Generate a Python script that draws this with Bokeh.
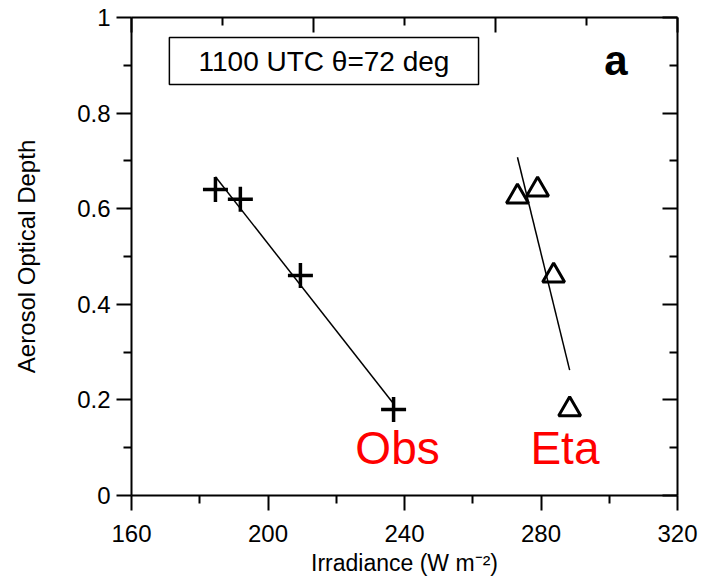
import numpy as np
from bokeh.plotting import figure
from bokeh.models import LinearAxis, Range1d, FixedTicker, Label, BoxAnnotation
from bokeh.embed import file_html
from bokeh.resources import INLINE

# ---- data ----
obs_irr = [184.6, 191.9, 209.5, 236.8]
obs_aod = [0.64, 0.62, 0.46, 0.18]
eta_irr = [273.1, 279.0, 283.7, 288.4]
eta_aod = [0.625, 0.64, 0.46, 0.18]

x_ticks = [160, 200, 240, 280, 320]
x_minor = [180, 220, 260, 300]
y_ticks = [0, 0.2, 0.4, 0.6, 0.8, 1.0]
y_minor = [0.1, 0.3, 0.5, 0.7, 0.9]
y_labels = ["0", "0.2", "0.4", "0.6", "0.8", "1"]
top_ticks = [0, 1, 2, 3]
top_minor = [0.5, 1.5, 2.5]

FONT = "Liberation Sans"

p = figure(width=709, height=582, x_range=Range1d(160, 320), y_range=Range1d(0, 1),
           output_backend="svg", toolbar_location=None,
           min_border_left=131, min_border_right=32, min_border_top=17, min_border_bottom=87)
p.outline_line_color = None
p.grid.visible = False
p.background_fill_color = "white"

def style(ax, inward=False):
    ax.axis_line_width = 2
    ax.major_tick_line_width = 2
    ax.minor_tick_line_width = 2
    if inward:
        ax.major_tick_in, ax.major_tick_out = 15, 0
        ax.minor_tick_in, ax.minor_tick_out = 8, 0
    else:
        ax.major_tick_in, ax.major_tick_out = 0, 15
        ax.minor_tick_in, ax.minor_tick_out = 0, 8
    ax.major_label_text_font = FONT
    ax.major_label_text_font_size = "24px"
    ax.major_label_text_color = "black"
    ax.axis_label_text_font = FONT
    ax.axis_label_text_font_style = "normal"
    ax.axis_label_text_color = "black"

xa = p.xaxis[0]
xa.ticker = FixedTicker(ticks=x_ticks, minor_ticks=x_minor)
style(xa)
xa.major_label_standoff = 14
xa.axis_label = "Irradiance (W m\u207b\u00b2)"
xa.axis_label_text_font_size = "23px"
xa.axis_label_standoff = 5

ya = p.yaxis[0]
ya.ticker = FixedTicker(ticks=y_ticks, minor_ticks=y_minor)
style(ya)
ya.major_label_overrides = {t: l for t, l in zip(y_ticks, y_labels)}
ya.major_label_standoff = 6
ya.axis_label = "Aerosol Optical Depth"
ya.axis_label_text_font_size = "24px"
ya.axis_label_standoff = 34

# right axis mirroring left, inward ticks, no labels
ra = LinearAxis(ticker=FixedTicker(ticks=y_ticks, minor_ticks=y_minor))
style(ra, inward=True)
ra.major_label_overrides = {t: "" for t in y_ticks}
ra.major_label_text_font_size = "0px"
p.add_layout(ra, "right")

# top axis with its own (unlabelled) tick spacing
p.extra_x_ranges = {"top": Range1d(0, 3)}
ta = LinearAxis(x_range_name="top", ticker=FixedTicker(ticks=top_ticks, minor_ticks=top_minor))
style(ta, inward=True)
ta.major_label_overrides = {t: "" for t in top_ticks}
ta.major_label_text_font_size = "0px"
p.add_layout(ta, "above")

# least-squares lines spanning each series' range
for xs, ys in ((obs_irr, obs_aod), (eta_irr, eta_aod)):
    k, b = np.polyfit(xs, ys, 1)
    xe = [min(xs), max(xs)]
    p.line(xe, [k * v + b for v in xe], line_color="black", line_width=1.5)

p.scatter(obs_irr, obs_aod, marker="cross", size=25, line_color="black", line_width=3.5)
p.scatter(eta_irr, eta_aod, marker="triangle", size=22, line_color="black", line_width=3,
          fill_color=None)

# annotation box
p.add_layout(BoxAnnotation(left=171.1, right=261.7, bottom=0.86, top=0.958,
                           fill_alpha=0, fill_color=None, line_color="black",
                           line_alpha=1, line_width=1.5))
p.add_layout(Label(x=216.4, y=0.876, text="1100 UTC \u03b8=72 deg", text_align="center",
                   text_font=FONT, text_font_size="28px", text_color="black"))
p.add_layout(Label(x=298.5, y=0.86, text="a", text_font=FONT, text_font_size="42px",
                   text_font_style="bold", text_color="black"))
p.add_layout(Label(x=225.6, y=0.045, text="Obs", text_font=FONT, text_font_size="46px",
                   text_color="red"))
p.add_layout(Label(x=276.9, y=0.045, text="Eta", text_font=FONT, text_font_size="46px",
                   text_color="red"))

open("out.html", "w").write(file_html(p, INLINE))
